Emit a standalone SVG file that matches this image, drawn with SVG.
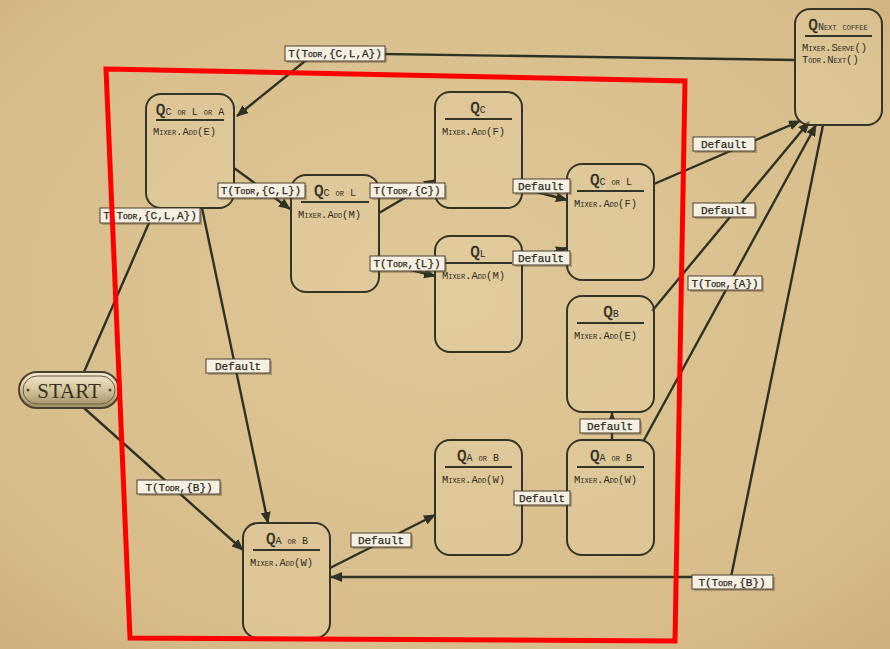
<svg xmlns="http://www.w3.org/2000/svg" width="890" height="649" viewBox="0 0 890 649">
<defs>
<radialGradient id="bg" cx="50%" cy="45%" r="75%">
<stop offset="0" stop-color="#e0c797"/>
<stop offset="0.75" stop-color="#d8bd8b"/>
<stop offset="1" stop-color="#cdae7c"/>
</radialGradient>
<linearGradient id="metal" x1="0" y1="0" x2="0" y2="1">
<stop offset="0" stop-color="#f3ead2"/>
<stop offset="0.45" stop-color="#d8c9a2"/>
<stop offset="1" stop-color="#9e8c62"/>
</linearGradient>
<marker id="arr" markerWidth="12" markerHeight="10" refX="11" refY="5" orient="auto" markerUnits="userSpaceOnUse">
<path d="M0,0 L12,5 L0,10 z" fill="#2e3226"/>
</marker>
<style>
.node rect.box{fill:#e4cfa4;fill-opacity:0.4;stroke:#33342a;stroke-width:2}
.node line{stroke:#33342a;stroke-width:2.2}
.q{font-family:"Liberation Mono",monospace;font-size:16px;fill:#2e2e24;stroke:#2e2e24;stroke-width:0.4}
.sub{font-family:"Liberation Mono",monospace;font-size:10px;font-variant:small-caps;fill:#2e2e24}
.act{font-family:"Liberation Mono",monospace;font-size:10.5px;font-variant:small-caps;fill:#2e2e24}
.conn path{fill:none;stroke:#2e3226;stroke-width:2.4}
.lbl rect.b{fill:#f6f0e2;stroke:#4a3e30;stroke-width:1}
.lbl rect.s{fill:#5a4a35;fill-opacity:0.35}
.lbl text{font-family:"Liberation Mono",monospace;font-size:11px;fill:#2b2b25;text-anchor:middle;stroke:#2b2b25;stroke-width:0.25}
.sc{font-variant:small-caps}
</style>
</defs>
<rect width="890" height="649" fill="url(#bg)"/>

<g id="connectors" class="conn">
<path d="M795,60 L315,53 L237,116" marker-end="url(#arr)"/>
<path d="M84,372 L155,209" marker-end="url(#arr)"/>
<path d="M234,168 L290,209" marker-end="url(#arr)"/>
<path d="M379,213 L435,180" marker-end="url(#arr)"/>
<path d="M379,262 L435,276" marker-end="url(#arr)"/>
<path d="M522,188 L567,200" marker-end="url(#arr)"/>
<path d="M522,262 L567,248" marker-end="url(#arr)"/>
<path d="M654,184 L800,121" marker-end="url(#arr)"/>
<path d="M652,311 L809,122" marker-end="url(#arr)"/>
<path d="M644,440 L816,125" marker-end="url(#arr)"/>
<path d="M823,125 L731,577 L331,577" marker-end="url(#arr)"/>
<path d="M84,408 L243,550" marker-end="url(#arr)"/>
<path d="M202,208 L268,523" marker-end="url(#arr)"/>
<path d="M330,568 L435,515" marker-end="url(#arr)"/>
<path d="M522,497 L567,497" marker-end="url(#arr)"/>
<path d="M612,440 L612,413" marker-end="url(#arr)"/>
</g>

<g id="start">
<rect x="19" y="372" width="100" height="36" rx="18" fill="url(#metal)" stroke="#4a4030" stroke-width="2"/>
<rect x="23" y="376" width="92" height="28" rx="14" fill="none" stroke="#6a5c40" stroke-width="1"/>
<circle cx="28" cy="390" r="1.5" fill="#5a4c30"/>
<circle cx="110" cy="390" r="1.5" fill="#5a4c30"/>
<text x="69" y="398" text-anchor="middle" font-family="Liberation Serif,serif" font-size="21" fill="#3a3222">START</text>
</g>

<g id="n1" class="node">
<rect class="box" x="146" y="94" width="88" height="114" rx="15"/>
<text x="190" y="115" text-anchor="middle"><tspan class="q">Q</tspan><tspan class="sub">C or L or A</tspan></text>
<line x1="156" y1="120" x2="224" y2="120"/>
<text class="act" x="153" y="135">Mixer.Add(E)</text>
</g>
<g id="n2" class="node">
<rect class="box" x="291" y="175" width="88" height="117" rx="15"/>
<text x="335" y="196" text-anchor="middle"><tspan class="q">Q</tspan><tspan class="sub">C or L</tspan></text>
<line x1="301" y1="202" x2="369" y2="202"/>
<text class="act" x="298" y="218">Mixer.Add(M)</text>
</g>
<g id="n3" class="node">
<rect class="box" x="435" y="92" width="87" height="116" rx="15"/>
<text x="478" y="113" text-anchor="middle"><tspan class="q">Q</tspan><tspan class="sub">C</tspan></text>
<line x1="445" y1="119" x2="512" y2="119"/>
<text class="act" x="442" y="135">Mixer.Add(F)</text>
</g>
<g id="n4" class="node">
<rect class="box" x="435" y="236" width="87" height="116" rx="15"/>
<text x="478" y="257" text-anchor="middle"><tspan class="q">Q</tspan><tspan class="sub">L</tspan></text>
<line x1="445" y1="263" x2="512" y2="263"/>
<text class="act" x="442" y="279">Mixer.Add(M)</text>
</g>
<g id="n5" class="node">
<rect class="box" x="567" y="164" width="87" height="116" rx="15"/>
<text x="611" y="185" text-anchor="middle"><tspan class="q">Q</tspan><tspan class="sub">C or L</tspan></text>
<line x1="577" y1="191" x2="644" y2="191"/>
<text class="act" x="574" y="207">Mixer.Add(F)</text>
</g>
<g id="n6" class="node">
<rect class="box" x="567" y="296" width="87" height="116" rx="15"/>
<text x="611" y="317" text-anchor="middle"><tspan class="q">Q</tspan><tspan class="sub">B</tspan></text>
<line x1="577" y1="323" x2="644" y2="323"/>
<text class="act" x="574" y="339">Mixer.Add(E)</text>
</g>
<g id="n7" class="node">
<rect class="box" x="435" y="440" width="87" height="115" rx="15"/>
<text x="478" y="461" text-anchor="middle"><tspan class="q">Q</tspan><tspan class="sub">A or B</tspan></text>
<line x1="445" y1="467" x2="512" y2="467"/>
<text class="act" x="442" y="483">Mixer.Add(W)</text>
</g>
<g id="n8" class="node">
<rect class="box" x="567" y="440" width="87" height="115" rx="15"/>
<text x="611" y="461" text-anchor="middle"><tspan class="q">Q</tspan><tspan class="sub">A or B</tspan></text>
<line x1="577" y1="467" x2="644" y2="467"/>
<text class="act" x="574" y="483">Mixer.Add(W)</text>
</g>
<g id="n9" class="node">
<rect class="box" x="243" y="523" width="87" height="115" rx="15"/>
<text x="287" y="544" text-anchor="middle"><tspan class="q">Q</tspan><tspan class="sub">A or B</tspan></text>
<line x1="253" y1="550" x2="320" y2="550"/>
<text class="act" x="250" y="566">Mixer.Add(W)</text>
</g>
<g id="n10" class="node">
<rect class="box" x="795" y="9" width="87" height="116" rx="15"/>
<text x="838" y="30" text-anchor="middle"><tspan class="q">Q</tspan><tspan class="sub">Next coffee</tspan></text>
<line x1="805" y1="36" x2="872" y2="36"/>
<text class="act" x="802" y="51">Mixer.Serve()</text>
<text class="act" x="802" y="63">Todr.Next()</text>
</g>

<g id="labels">
<g class="lbl"><rect class="s" x="287" y="48" width="100" height="15"/><rect class="b" x="285" y="46" width="100" height="15"/><text x="335" y="57">T(<tspan class="sc">Todr</tspan>,{C,L,A})</text></g>
<g class="lbl"><rect class="s" x="102" y="210" width="100" height="15"/><rect class="b" x="100" y="208" width="100" height="15"/><text x="150" y="219">T(<tspan class="sc">Todr</tspan>,{C,L,A})</text></g>
<g class="lbl"><rect class="s" x="220" y="185" width="87" height="15"/><rect class="b" x="218" y="183" width="87" height="15"/><text x="261" y="194">T(<tspan class="sc">Todr</tspan>,{C,L})</text></g>
<g class="lbl"><rect class="s" x="372" y="185" width="75" height="15"/><rect class="b" x="370" y="183" width="75" height="15"/><text x="407" y="194">T(<tspan class="sc">Todr</tspan>,{C})</text></g>
<g class="lbl"><rect class="s" x="372" y="258" width="75" height="15"/><rect class="b" x="370" y="256" width="75" height="15"/><text x="407" y="267">T(<tspan class="sc">Todr</tspan>,{L})</text></g>
<g class="lbl"><rect class="s" x="515" y="181" width="57" height="14"/><rect class="b" x="513" y="179" width="57" height="14"/><text x="541" y="190">Default</text></g>
<g class="lbl"><rect class="s" x="515" y="253" width="57" height="14"/><rect class="b" x="513" y="251" width="57" height="14"/><text x="541" y="262">Default</text></g>
<g class="lbl"><rect class="s" x="695" y="139" width="62" height="14"/><rect class="b" x="693" y="137" width="62" height="14"/><text x="724" y="148">Default</text></g>
<g class="lbl"><rect class="s" x="695" y="205" width="62" height="14"/><rect class="b" x="693" y="203" width="62" height="14"/><text x="724" y="214">Default</text></g>
<g class="lbl"><rect class="s" x="690" y="278" width="74" height="14"/><rect class="b" x="688" y="276" width="74" height="14"/><text x="725" y="287">T(<tspan class="sc">Todr</tspan>,{A})</text></g>
<g class="lbl"><rect class="s" x="694" y="577" width="81" height="14"/><rect class="b" x="692" y="575" width="81" height="14"/><text x="732" y="586">T(<tspan class="sc">Todr</tspan>,{B})</text></g>
<g class="lbl"><rect class="s" x="139" y="482" width="83" height="14"/><rect class="b" x="137" y="480" width="83" height="14"/><text x="179" y="491">T(<tspan class="sc">Todr</tspan>,{B})</text></g>
<g class="lbl"><rect class="s" x="208" y="361" width="64" height="14"/><rect class="b" x="206" y="359" width="64" height="14"/><text x="238" y="370">Default</text></g>
<g class="lbl"><rect class="s" x="353" y="535" width="60" height="14"/><rect class="b" x="351" y="533" width="60" height="14"/><text x="381" y="544">Default</text></g>
<g class="lbl"><rect class="s" x="516" y="493" width="56" height="14"/><rect class="b" x="514" y="491" width="56" height="14"/><text x="542" y="502">Default</text></g>
<g class="lbl"><rect class="s" x="582" y="421" width="60" height="14"/><rect class="b" x="580" y="419" width="60" height="14"/><text x="610" y="430">Default</text></g>
</g>

<polygon points="106,69 685,81 675,641 130,638" fill="none" stroke="#ff0000" stroke-width="5" stroke-linejoin="miter"/>
</svg>
